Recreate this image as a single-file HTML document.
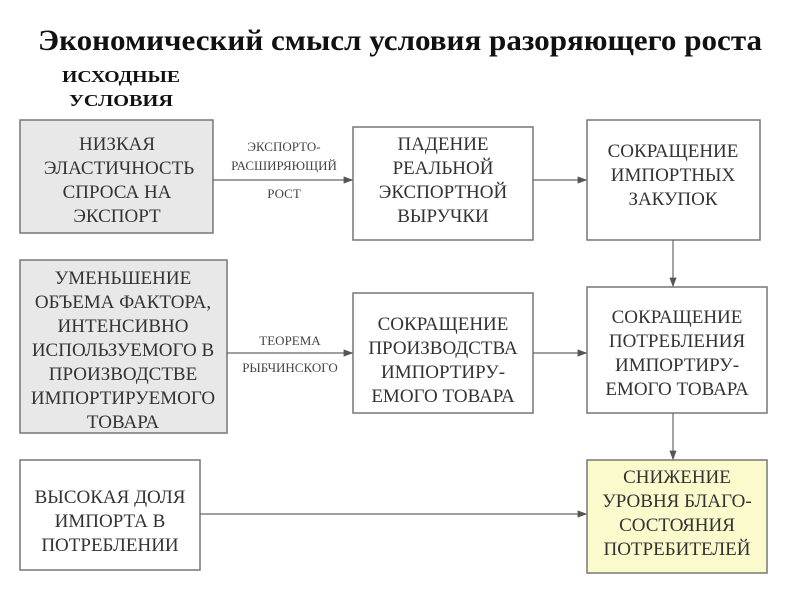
<!DOCTYPE html>
<html><head><meta charset="utf-8"><style>body{margin:0;background:#fff}</style></head><body>
<svg width="800" height="600" xmlns="http://www.w3.org/2000/svg" font-family="Liberation Serif, serif">
<defs><marker id="a" markerWidth="8" markerHeight="6" refX="7" refY="3" orient="auto"><path d="M0,0L8,3L0,6z" fill="#555"/></marker></defs>
<text x="400" y="50" text-anchor="middle" font-size="30" font-weight="bold" fill="#111" textLength="724" lengthAdjust="spacingAndGlyphs">Экономический смысл условия разоряющего роста</text>
<text x="121" y="82" text-anchor="middle" font-size="17" font-weight="bold" fill="#111" textLength="118" lengthAdjust="spacingAndGlyphs">ИСХОДНЫЕ</text>
<text x="121" y="106" text-anchor="middle" font-size="17" font-weight="bold" fill="#111" textLength="104" lengthAdjust="spacingAndGlyphs">УСЛОВИЯ</text>
<g stroke="#777" stroke-width="1.5">
<rect x="20" y="120" width="193" height="113" fill="#e8e8e8"/>
<rect x="353" y="127" width="180" height="113" fill="#fff"/>
<rect x="587" y="120" width="173" height="120" fill="#fff"/>
<rect x="20" y="260" width="207" height="173" fill="#e8e8e8"/>
<rect x="353" y="293" width="180" height="120" fill="#fff"/>
<rect x="587" y="287" width="180" height="126" fill="#fff"/>
<rect x="20" y="460" width="180" height="110" fill="#fff"/>
<rect x="587" y="460" width="180" height="113" fill="#fafacd"/>
</g>
<g stroke="#666" stroke-width="1.2" marker-end="url(#a)">
<line x1="213" y1="180" x2="352" y2="180"/>
<line x1="533" y1="180" x2="586" y2="180"/>
<line x1="227" y1="353" x2="352" y2="353"/>
<line x1="533" y1="353" x2="586" y2="353"/>
<line x1="200" y1="514" x2="586" y2="514"/>
<line x1="673" y1="240" x2="673" y2="286"/>
<line x1="673" y1="413" x2="673" y2="459"/>
</g>
<g font-size="19" fill="#333" text-anchor="middle">
<text x="117" y="150">НИЗКАЯ</text><text x="119" y="174">ЭЛАСТИЧНОСТЬ</text><text x="117" y="198">СПРОСА НА</text><text x="117" y="222">ЭКСПОРТ</text>
<text x="443" y="150">ПАДЕНИЕ</text><text x="443" y="174">РЕАЛЬНОЙ</text><text x="443" y="198">ЭКСПОРТНОЙ</text><text x="443" y="222">ВЫРУЧКИ</text>
<text x="673" y="157">СОКРАЩЕНИЕ</text><text x="673" y="181">ИМПОРТНЫХ</text><text x="673" y="205">ЗАКУПОК</text>
<text x="123" y="284">УМЕНЬШЕНИЕ</text><text x="123" y="308">ОБЪЕМА ФАКТОРА,</text><text x="123" y="332">ИНТЕНСИВНО</text><text x="123" y="356">ИСПОЛЬЗУЕМОГО В</text><text x="123" y="380">ПРОИЗВОДСТВЕ</text><text x="123" y="404">ИМПОРТИРУЕМОГО</text><text x="123" y="428">ТОВАРА</text>
<text x="443" y="330">СОКРАЩЕНИЕ</text><text x="443" y="354">ПРОИЗВОДСТВА</text><text x="443" y="378">ИМПОРТИРУ-</text><text x="443" y="402">ЕМОГО ТОВАРА</text>
<text x="677" y="323">СОКРАЩЕНИЕ</text><text x="677" y="347">ПОТРЕБЛЕНИЯ</text><text x="677" y="371">ИМПОРТИРУ-</text><text x="677" y="395">ЕМОГО ТОВАРА</text>
<text x="110" y="503">ВЫСОКАЯ ДОЛЯ</text><text x="110" y="527">ИМПОРТА В</text><text x="110" y="551">ПОТРЕБЛЕНИИ</text>
<text x="677" y="483">СНИЖЕНИЕ</text><text x="677" y="507">УРОВНЯ БЛАГО-</text><text x="677" y="531">СОСТОЯНИЯ</text><text x="677" y="555">ПОТРЕБИТЕЛЕЙ</text>
</g>
<g font-size="13" fill="#444" text-anchor="middle">
<text x="284" y="151">ЭКСПОРТО-</text><text x="284" y="170">РАСШИРЯЮЩИЙ</text><text x="284" y="198">РОСТ</text>
<text x="290" y="345">ТЕОРЕМА</text><text x="290" y="372">РЫБЧИНСКОГО</text>
</g>
</svg>
</body></html>
